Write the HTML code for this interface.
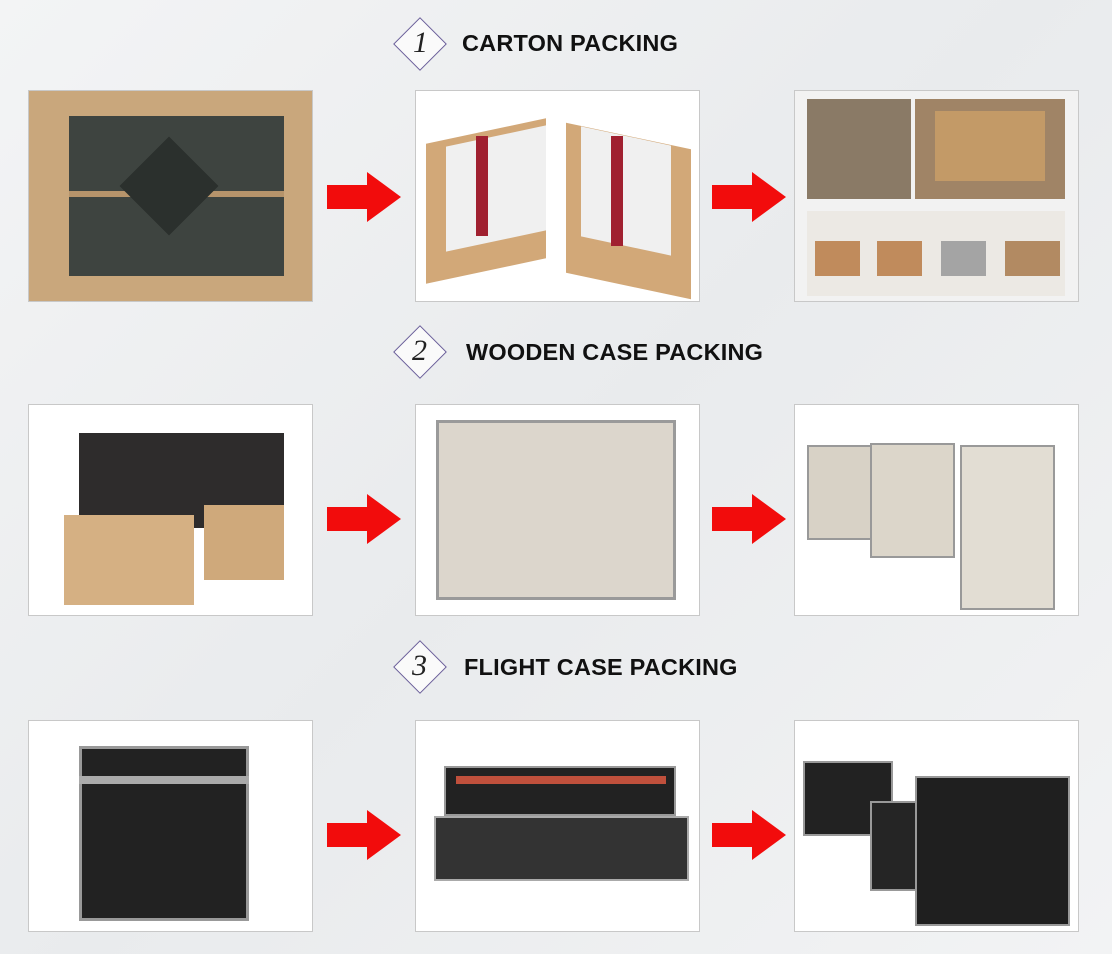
<!DOCTYPE html>
<html><head><meta charset="utf-8"><style>
*{margin:0;padding:0;box-sizing:border-box}
body{width:1112px;height:954px;position:relative;overflow:hidden;background:linear-gradient(135deg,#f3f4f5,#e9ebed 50%,#f2f3f4);font-family:"Liberation Sans",sans-serif}
.a{position:absolute}
.fr{position:absolute;border:1px solid #c8c8c8;background:#fff;overflow:hidden}
.dia{position:absolute;width:38px;height:38px;border:1.5px solid #6a5f9a;transform:rotate(45deg);background:#fafafa}
.num{position:absolute;font-family:"Liberation Serif",serif;font-style:italic;font-size:30px;color:#222}
.tt{position:absolute;font-weight:bold;font-size:23.5px;letter-spacing:0.2px;color:#111}
.arr{position:absolute;width:74px;height:50px}
</style></head><body>
<div class="dia" style="left:401px;top:25px"></div><div class="num" style="left:413px;top:26px">1</div><div class="tt" style="left:462px;top:30px">CARTON PACKING</div>
<div class="dia" style="left:401px;top:333px"></div><div class="num" style="left:412px;top:334px">2</div><div class="tt" style="left:466px;top:339px">WOODEN CASE PACKING</div>
<div class="dia" style="left:401px;top:648px"></div><div class="num" style="left:412px;top:649px">3</div><div class="tt" style="left:464px;top:654px">FLIGHT CASE PACKING</div>

<div class="fr" style="left:28px;top:90px;width:285px;height:212px;background:#c9a77c">
 <div class="a" style="left:40px;top:25px;width:215px;height:160px;background:#3e4440"></div>
 <div class="a" style="left:40px;top:100px;width:215px;height:6px;background:#b6946b"></div>
 <div class="a" style="left:105px;top:60px;width:70px;height:70px;background:#2b302d;transform:rotate(45deg)"></div>
</div>
<div class="fr" style="left:415px;top:90px;width:285px;height:212px">
 <div class="a" style="left:10px;top:40px;width:120px;height:140px;background:#d2a878;transform:skewY(-12deg)"></div>
 <div class="a" style="left:30px;top:45px;width:100px;height:105px;background:#f0f0f0;transform:skewY(-12deg)"></div>
 <div class="a" style="left:150px;top:45px;width:125px;height:150px;background:#d2a878;transform:skewY(12deg)"></div>
 <div class="a" style="left:165px;top:45px;width:90px;height:110px;background:#f0f0f0;transform:skewY(12deg)"></div>
 <div class="a" style="left:60px;top:45px;width:12px;height:100px;background:#a02030"></div>
 <div class="a" style="left:195px;top:45px;width:12px;height:110px;background:#a02030"></div>
</div>
<div class="fr" style="left:794px;top:90px;width:285px;height:212px;background:#f2f2f2">
 <div class="a" style="left:12px;top:8px;width:104px;height:100px;background:#8a7a66"></div>
 <div class="a" style="left:120px;top:8px;width:150px;height:100px;background:#a08466"></div>
 <div class="a" style="left:140px;top:20px;width:110px;height:70px;background:#c39a67"></div>
 <div class="a" style="left:12px;top:120px;width:258px;height:85px;background:#ece9e4"></div>
 <div class="a" style="left:20px;top:150px;width:45px;height:35px;background:#c08b5c"></div>
 <div class="a" style="left:82px;top:150px;width:45px;height:35px;background:#c08b5c"></div>
 <div class="a" style="left:146px;top:150px;width:45px;height:35px;background:#a4a4a4"></div>
 <div class="a" style="left:210px;top:150px;width:55px;height:35px;background:#b28a62"></div>
</div>

<div class="fr" style="left:28px;top:404px;width:285px;height:212px">
 <div class="a" style="left:50px;top:28px;width:205px;height:95px;background:#2e2c2c"></div>
 <div class="a" style="left:35px;top:110px;width:130px;height:90px;background:#d5b083"></div>
 <div class="a" style="left:175px;top:100px;width:80px;height:75px;background:#cfa97b"></div>
</div>
<div class="fr" style="left:415px;top:404px;width:285px;height:212px">
 <div class="a" style="left:20px;top:15px;width:240px;height:180px;background:#dcd6cc;border:3px solid #9a9a9a"></div>
</div>
<div class="fr" style="left:794px;top:404px;width:285px;height:212px">
 <div class="a" style="left:12px;top:40px;width:70px;height:95px;background:#d8d2c6;border:2px solid #999"></div>
 <div class="a" style="left:75px;top:38px;width:85px;height:115px;background:#dcd6ca;border:2px solid #999"></div>
 <div class="a" style="left:165px;top:40px;width:95px;height:165px;background:#e2ddd3;border:2px solid #999"></div>
</div>

<div class="fr" style="left:28px;top:720px;width:285px;height:212px">
 <div class="a" style="left:50px;top:25px;width:170px;height:175px;background:#222;border:3px solid #999"></div>
 <div class="a" style="left:50px;top:55px;width:170px;height:8px;background:#aaa"></div>
</div>
<div class="fr" style="left:415px;top:720px;width:285px;height:212px">
 <div class="a" style="left:28px;top:45px;width:232px;height:50px;background:#222;border:2px solid #999"></div>
 <div class="a" style="left:40px;top:55px;width:210px;height:8px;background:#c0503c"></div>
 <div class="a" style="left:18px;top:95px;width:255px;height:65px;background:#333;border:2px solid #aaa"></div>
</div>
<div class="fr" style="left:794px;top:720px;width:285px;height:212px">
 <div class="a" style="left:8px;top:40px;width:90px;height:75px;background:#222;border:2px solid #999"></div>
 <div class="a" style="left:75px;top:80px;width:75px;height:90px;background:#252525;border:2px solid #999"></div>
 <div class="a" style="left:120px;top:55px;width:155px;height:150px;background:#1f1f1f;border:2px solid #999"></div>
</div>

<svg class="arr" style="left:327px;top:172px" viewBox="0 0 74 50"><polygon points="0,13 40,13 40,0 74,25 40,50 40,37 0,37" fill="#f20c0c"/></svg>
<svg class="arr" style="left:712px;top:172px" viewBox="0 0 74 50"><polygon points="0,13 40,13 40,0 74,25 40,50 40,37 0,37" fill="#f20c0c"/></svg>
<svg class="arr" style="left:327px;top:494px" viewBox="0 0 74 50"><polygon points="0,13 40,13 40,0 74,25 40,50 40,37 0,37" fill="#f20c0c"/></svg>
<svg class="arr" style="left:712px;top:494px" viewBox="0 0 74 50"><polygon points="0,13 40,13 40,0 74,25 40,50 40,37 0,37" fill="#f20c0c"/></svg>
<svg class="arr" style="left:327px;top:810px" viewBox="0 0 74 50"><polygon points="0,13 40,13 40,0 74,25 40,50 40,37 0,37" fill="#f20c0c"/></svg>
<svg class="arr" style="left:712px;top:810px" viewBox="0 0 74 50"><polygon points="0,13 40,13 40,0 74,25 40,50 40,37 0,37" fill="#f20c0c"/></svg>
</body></html>
